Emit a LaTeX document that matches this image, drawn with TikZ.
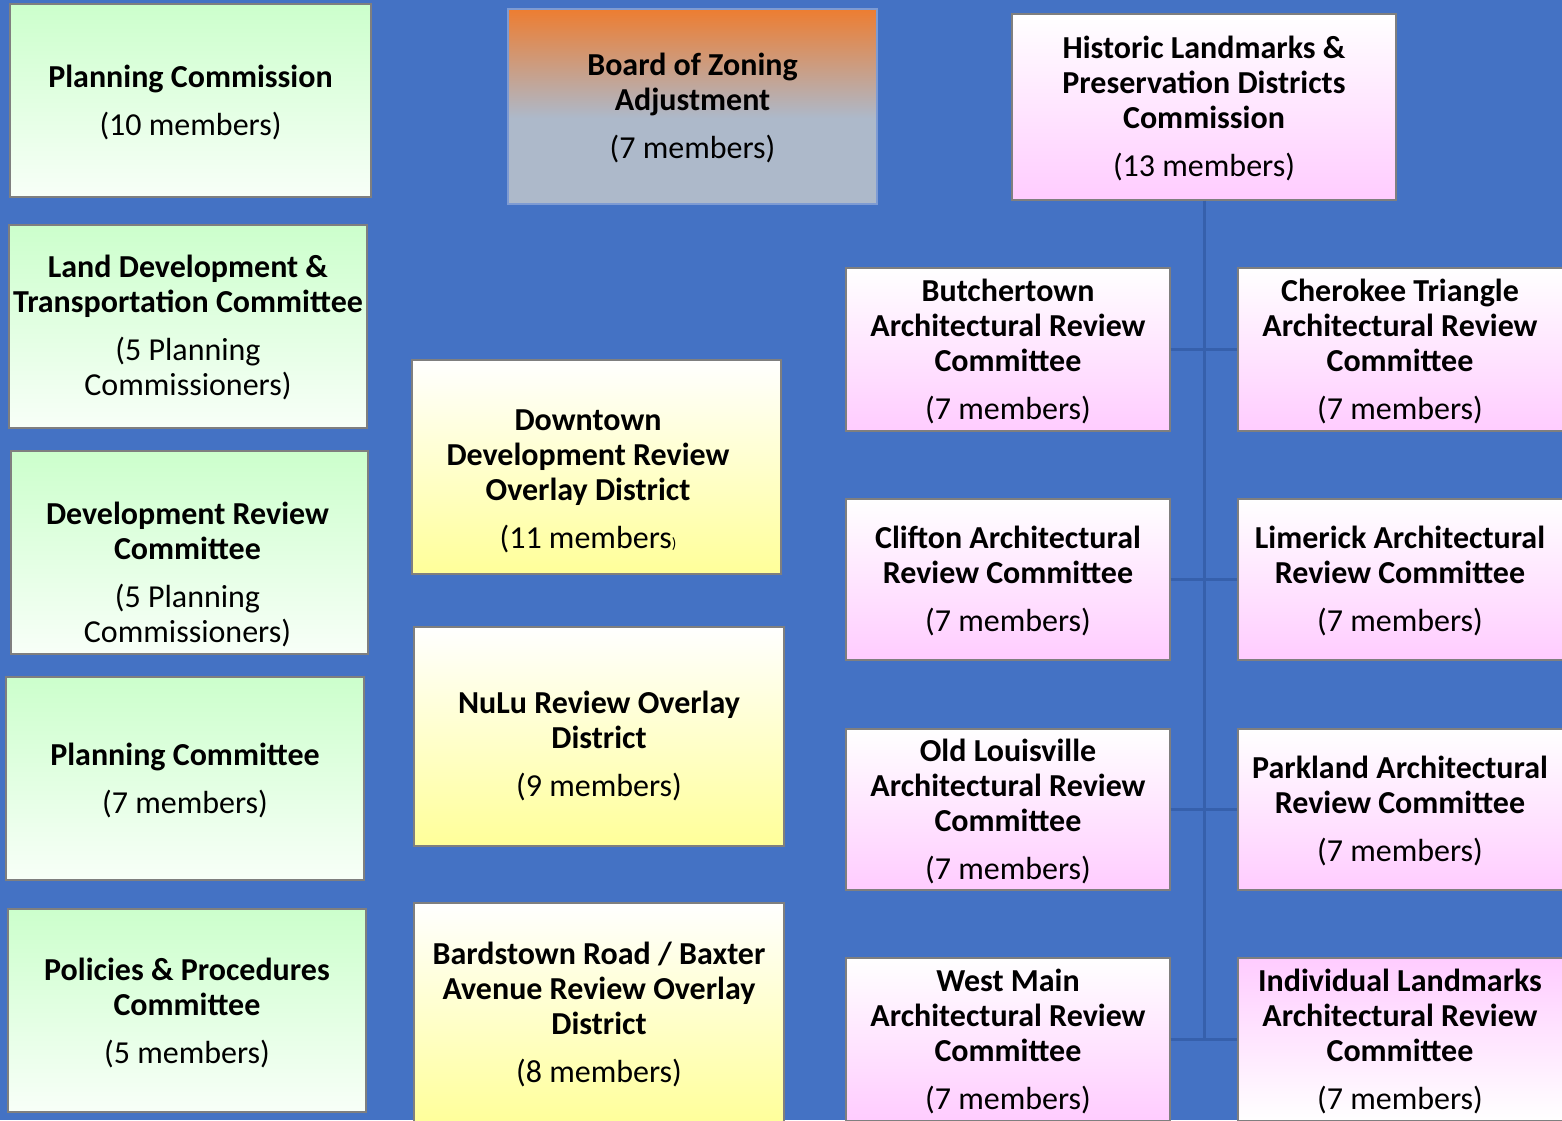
\documentclass[tikz,border=0pt]{standalone}
\usepackage{fontspec}
\setmainfont{Carlito}
\definecolor{bg}{HTML}{4472C4}
\definecolor{conn}{HTML}{3660AC}
\definecolor{grn}{HTML}{CCFFCC}
\definecolor{grnlow}{HTML}{F8FFF8}
\definecolor{ylw}{HTML}{FFFF99}
\definecolor{pnk}{HTML}{FFCCFF}
\definecolor{bzo}{HTML}{ED7D31}
\definecolor{bzg}{HTML}{ADB9CA}
\definecolor{edge}{HTML}{7F7F7F}
\definecolor{bzedge}{HTML}{7E9BD3}
\pgfdeclareverticalshading{bzshade}{100bp}{color(0bp)=(bzg); color(47bp)=(bzg); color(75bp)=(bzo); color(100bp)=(bzo)}
\tikzset{
  box/.style={draw=edge, line width=1.2pt, inner sep=0pt},
  txt/.style={inner sep=0pt, align=center, text=black, font=\fontsize{32}{35}\selectfont},
  gbox/.style={box, top color=grn, bottom color=grnlow},
  ybox/.style={box, top color=white, bottom color=ylw},
  pbox/.style={box, top color=white, bottom color=pnk},
  pboxr/.style={box, top color=pnk, bottom color=white},
  bzbox/.style={box, draw=bzedge, shading=bzshade},
  conn/.style={draw=conn, line width=3pt},
  sz/.style n args={2}{minimum width=#1pt, minimum height=#2pt}
}
% #1 style, #2 name, #3 x, #4 y, #5 w, #6 h, #7 text dx, #8 text dy (down), #9 text
\newcommand\orgbox[9]{%
  \node[#1, sz={#5}{#6}] (#2) at (#3,#4) {};
  \node[txt, xshift=#7pt, yshift=-#8pt] (#2-t) at (#2.center) {#9};}
\begin{document}
\begin{tikzpicture}[x=1pt,y=-1pt]
\useasboundingbox (0,0) rectangle (1562,1120);
\fill[bg] (0,0) rectangle (1562,1120);

% left column (green)
\orgbox{gbox}{pc}{190.5}{100.5}{361}{193}{0}{2}
  {\textbf{Planning Commission}\\[13pt](10 members)}
\orgbox{gbox}{ldt}{188}{326.5}{358}{203}{0}{1}
  {\textbf{Land Development \&}\\\textbf{Transportation Committee}\\[13pt](5 Planning\\Commissioners)}
\orgbox{gbox}{drc}{189.5}{552.5}{357}{203}{-2}{22}
  {\textbf{Development Review}\\\textbf{Committee}\\[13pt](5 Planning\\Commissioners)}
\orgbox{gbox}{plc}{185}{778.5}{358}{203}{0}{2}
  {\textbf{Planning Committee}\\[13pt](7 members)}
\orgbox{gbox}{ppc}{187}{1010.5}{358}{203}{0}{2}
  {\textbf{Policies \& Procedures}\\\textbf{Committee}\\[13pt](5 members)}

% middle column
\orgbox{bzbox}{bza}{692.5}{106.5}{369}{195}{0}{1.5}
  {\textbf{Board of Zoning}\\\textbf{Adjustment}\\[13pt](7 members)}
\orgbox{ybox}{ddr}{596.5}{467}{369}{214}{-8.5}{14}
  {\textbf{Downtown}\\\textbf{Development Review}\\\textbf{Overlay District}\\[13pt](11 members{\fontsize{15}{15}\selectfont)}}
\orgbox{ybox}{nulu}{599}{736.5}{370}{219}{0}{9.5}
  {\textbf{NuLu Review Overlay}\\\textbf{District}\\[13pt](9 members)}
\orgbox{ybox}{brd}{599}{1014}{370}{222}{0}{0}
  {\textbf{Bardstown Road / Baxter}\\\textbf{Avenue Review Overlay}\\\textbf{District}\\[13pt](8 members)}

% right tree (pink)
\orgbox{pbox}{hl}{1204}{107}{384}{186}{0}{1.5}
  {\textbf{Historic Landmarks \&}\\\textbf{Preservation Districts}\\\textbf{Commission}\\[13pt](13 members)}
\orgbox{pbox}{but}{1008}{349.5}{324}{163}{0}{2}
  {\textbf{Butchertown}\\\textbf{Architectural Review}\\\textbf{Committee}\\[13pt](7 members)}
\orgbox{pbox}{che}{1402}{349.5}{328}{163}{-2}{2}
  {\textbf{Cherokee Triangle}\\\textbf{Architectural Review}\\\textbf{Committee}\\[13pt](7 members)}
\orgbox{pbox}{cli}{1008}{579.5}{324}{161}{0}{1.5}
  {\textbf{Clifton Architectural}\\\textbf{Review Committee}\\[13pt](7 members)}
\orgbox{pbox}{lim}{1402}{579.5}{328}{161}{-2}{1.5}
  {\textbf{Limerick Architectural}\\\textbf{Review Committee}\\[13pt](7 members)}
\orgbox{pbox}{old}{1008}{809.5}{324}{161}{0}{2}
  {\textbf{Old Louisville}\\\textbf{Architectural Review}\\\textbf{Committee}\\[13pt](7 members)}
\orgbox{pbox}{par}{1402}{809.5}{328}{161}{-2}{1.5}
  {\textbf{Parkland Architectural}\\\textbf{Review Committee}\\[13pt](7 members)}
\orgbox{pbox}{wm}{1008}{1039.5}{324}{163}{0}{2}
  {\textbf{West Main}\\\textbf{Architectural Review}\\\textbf{Committee}\\[13pt](7 members)}
\orgbox{pboxr}{ind}{1402}{1039.5}{328}{163}{-2}{2}
  {\textbf{Individual Landmarks}\\\textbf{Architectural Review}\\\textbf{Committee}\\[13pt](7 members)}

% connectors
\coordinate (trunkend) at (hl.south |- wm.east);
\draw[conn] (hl.south) -- (trunkend);
\draw[conn] (but.east) -- (che.west);
\draw[conn] (cli.east) -- (lim.west);
\draw[conn] (old.east) -- (par.west);
\draw[conn] (wm.east) -- (ind.west);
\end{tikzpicture}
\end{document}
